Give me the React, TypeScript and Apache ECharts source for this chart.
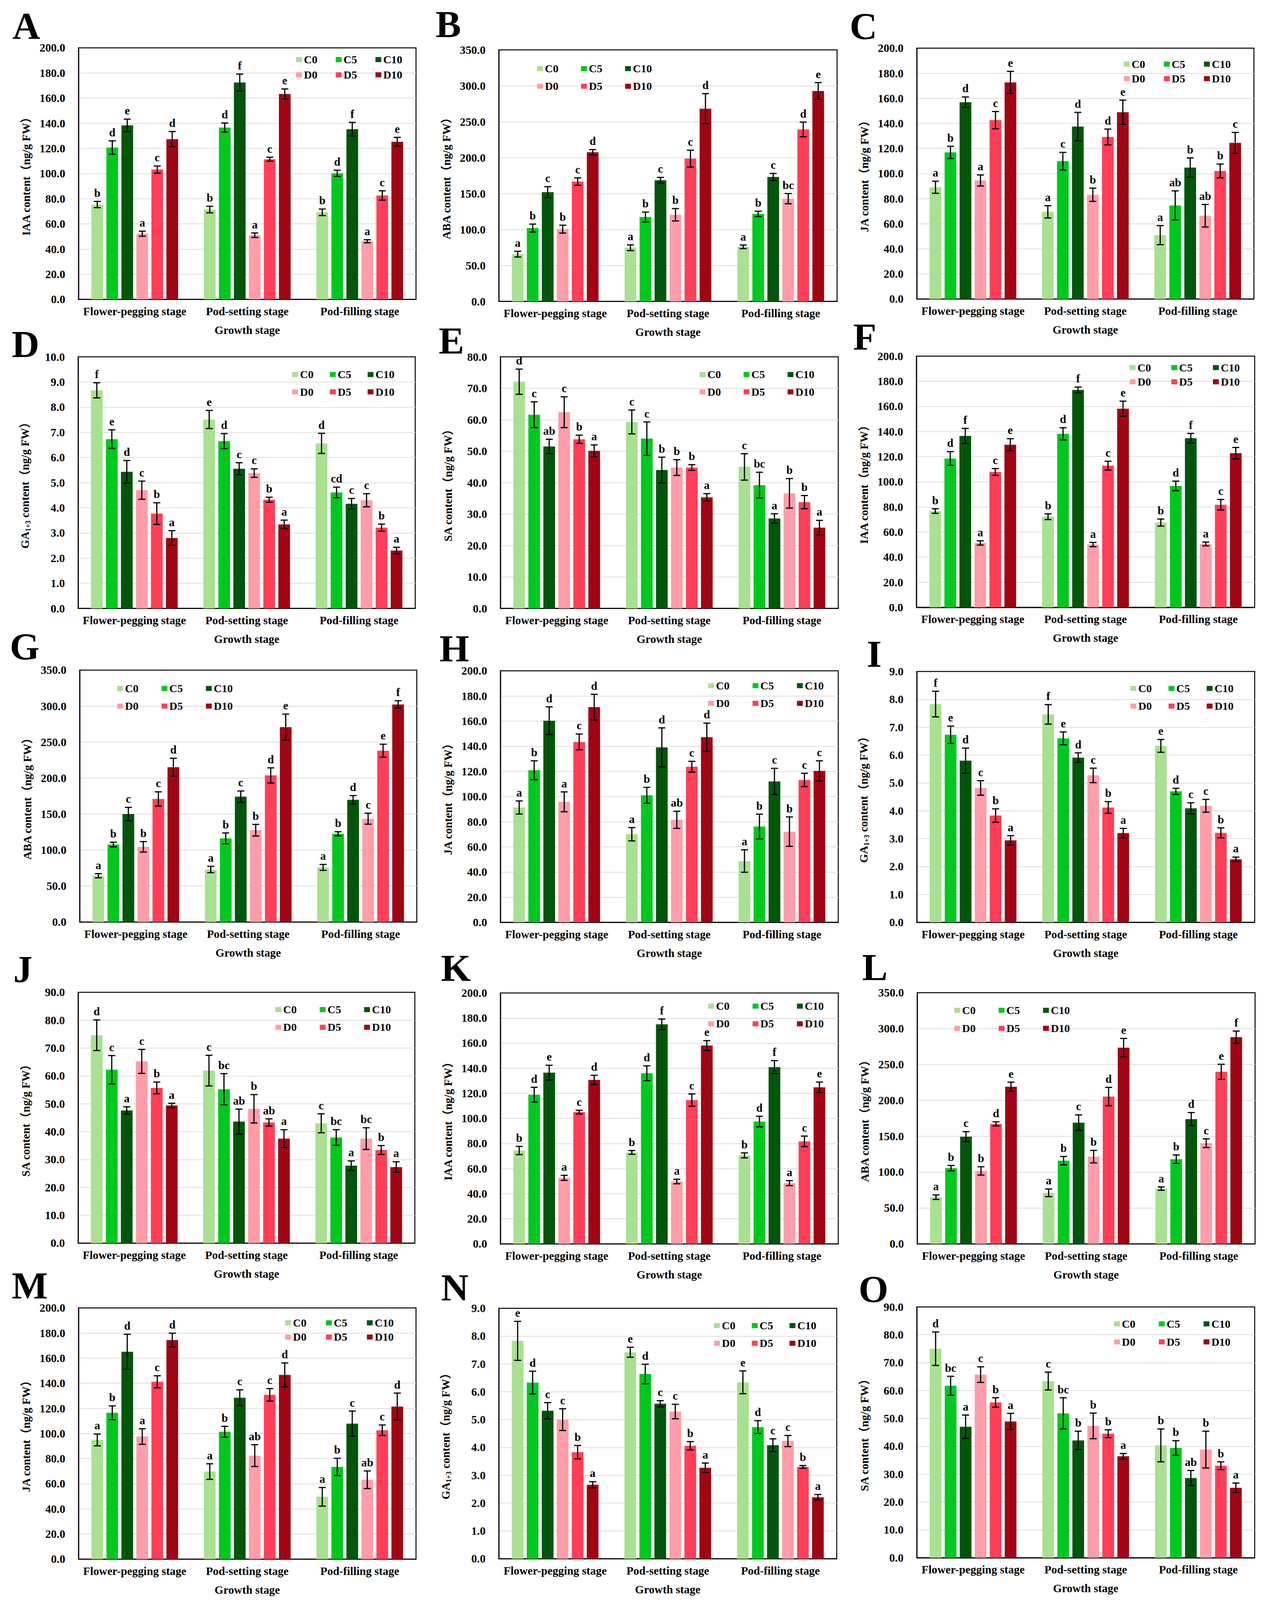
import React, { useEffect, useRef } from 'react';
import * as echarts from 'echarts';

// ---------- categories / series ----------
const STAGES = ['Flower-pegging stage', 'Pod-setting stage', 'Pod-filling stage'];
const TREATMENTS = ['C0', 'C5', 'C10', 'D0', 'D5', 'D10'];
const TREATMENT_COLORS = ['#A9E091', '#00C81E', '#02560B', '#FF9DA8', '#FF3F57', '#A00514'];

// ---------- data: rows = stages, columns = treatments (C0,C5,C10,D0,D5,D10) ----------
const A_MEAN = [[75.4, 120.7, 138.3, 52.2, 103.2, 127.4], [71.4, 136.6, 172.4, 51.0, 111.4, 163.3], [69.2, 100.2, 135.3, 46.2, 82.6, 125.3]];
const A_ERR = [[2.5, 5.3, 5.0, 2.0, 2.8, 6.0], [2.6, 3.6, 6.7, 1.8, 1.6, 4.0], [2.6, 2.5, 5.4, 1.2, 3.7, 3.5]];
const A_LET = [['b', 'd', 'e', 'a', 'c', 'd'], ['b', 'd', 'f', 'a', 'c', 'e'], ['b', 'd', 'f', 'a', 'c', 'e']];

const B_MEAN = [[65.8, 102.1, 152.0, 100.6, 166.7, 207.6], [74.7, 117.5, 168.6, 120.6, 198.7, 268.2], [76.0, 121.8, 173.2, 143.0, 239.3, 292.8]];
const B_ERR = [[4.0, 5.5, 7.7, 5.5, 5.2, 3.7], [4.0, 6.8, 4.0, 8.6, 11.7, 20.9], [2.5, 3.7, 4.9, 7.1, 10.2, 11.7]];
const B_LET = [['a', 'b', 'c', 'b', 'c', 'd'], ['a', 'b', 'c', 'b', 'c', 'd'], ['a', 'b', 'c', 'bc', 'd', 'e']];

const C_MEAN = [[89.1, 116.9, 156.9, 94.5, 142.6, 172.7], [69.5, 109.9, 137.5, 83.1, 129.2, 148.9], [50.9, 74.6, 104.8, 66.4, 102.1, 124.5]];
const C_ERR = [[4.8, 4.9, 4.2, 4.4, 6.9, 8.8], [4.9, 7.0, 11.3, 5.3, 6.3, 9.7], [7.6, 11.6, 7.7, 9.0, 5.5, 8.3]];
const C_LET = [['a', 'b', 'd', 'a', 'c', 'e'], ['a', 'c', 'd', 'b', 'd', 'e'], ['a', 'ab', 'b', 'ab', 'b', 'c']];

const D_MEAN = [[8.67, 6.73, 5.43, 4.70, 3.77, 2.80], [7.51, 6.65, 5.55, 5.38, 4.32, 3.34], [6.56, 4.61, 4.16, 4.30, 3.21, 2.30]];
const D_ERR = [[0.30, 0.37, 0.45, 0.36, 0.43, 0.29], [0.36, 0.30, 0.24, 0.17, 0.10, 0.17], [0.40, 0.21, 0.21, 0.26, 0.14, 0.13]];
const D_LET = [['f', 'e', 'd', 'c', 'b', 'a'], ['e', 'd', 'c', 'c', 'b', 'a'], ['d', 'cd', 'c', 'c', 'b', 'a']];

const E_MEAN = [[72.1, 61.6, 51.5, 62.4, 53.8, 50.1], [59.3, 54.0, 44.0, 44.8, 44.8, 35.3], [45.0, 39.2, 28.6, 36.6, 33.8, 25.7]];
const E_ERR = [[4.0, 4.1, 2.3, 4.9, 1.3, 1.9], [3.8, 5.3, 4.1, 2.5, 0.9, 1.2], [4.2, 4.1, 1.5, 4.7, 2.1, 2.3]];
const E_LET = [['d', 'c', 'ab', 'c', 'b', 'a'], ['c', 'c', 'b', 'b', 'b', 'a'], ['c', 'bc', 'a', 'b', 'b', 'a']];

const F_MEAN = [[76.7, 118.5, 136.5, 51.3, 107.8, 129.5], [72.2, 138.2, 173.1, 50.0, 112.8, 158.2], [67.5, 96.7, 134.7, 50.5, 81.7, 122.8]];
const F_ERR = [[1.8, 5.5, 6.0, 1.7, 2.7, 4.8], [2.3, 4.8, 2.3, 1.7, 3.5, 6.0], [2.8, 3.8, 3.8, 1.5, 4.2, 4.5]];
const F_LET = [['b', 'd', 'f', 'a', 'c', 'e'], ['b', 'd', 'f', 'a', 'c', 'e'], ['b', 'd', 'f', 'a', 'c', 'e']];

const G_MEAN = [[64.2, 107.6, 149.9, 104.4, 170.9, 215.0], [72.9, 116.1, 174.1, 127.5, 203.6, 270.7], [75.8, 122.5, 169.7, 143.5, 238.0, 302.2]];
const G_ERR = [[2.9, 3.2, 9.3, 7.3, 9.9, 12.5], [4.4, 7.6, 7.9, 8.1, 10.5, 18.1], [4.1, 2.9, 5.9, 7.6, 9.0, 5.2]];
const G_LET = [['a', 'b', 'c', 'b', 'c', 'd'], ['a', 'b', 'c', 'b', 'd', 'e'], ['a', 'b', 'd', 'c', 'e', 'f']];

const H_MEAN = [[91.3, 120.9, 160.3, 95.8, 143.4, 171.1], [70.0, 101.0, 139.1, 81.5, 123.7, 147.2], [48.7, 76.1, 112.0, 72.1, 113.2, 120.4]];
const H_ERR = [[5.2, 7.5, 11.0, 7.9, 6.3, 10.2], [5.3, 6.3, 15.5, 6.8, 4.3, 11.2], [8.9, 9.9, 10.4, 11.7, 5.3, 8.0]];
const H_LET = [['a', 'b', 'd', 'a', 'c', 'd'], ['a', 'b', 'd', 'ab', 'c', 'd'], ['a', 'b', 'c', 'b', 'c', 'c']];

const I_MEAN = [[7.83, 6.73, 5.80, 4.82, 3.83, 2.94], [7.46, 6.60, 5.91, 5.27, 4.12, 3.20], [6.33, 4.70, 4.09, 4.18, 3.21, 2.26]];
const I_ERR = [[0.46, 0.31, 0.45, 0.26, 0.24, 0.17], [0.35, 0.23, 0.17, 0.26, 0.21, 0.17], [0.23, 0.11, 0.20, 0.23, 0.18, 0.08]];
const I_LET = [['f', 'e', 'd', 'c', 'b', 'a'], ['f', 'e', 'd', 'c', 'b', 'a'], ['e', 'd', 'c', 'c', 'b', 'a']];

const J_MEAN = [[74.6, 62.2, 47.6, 65.2, 55.7, 49.4], [61.9, 55.2, 43.6, 48.2, 43.3, 37.5], [43.0, 37.9, 27.8, 37.5, 33.4, 27.3]];
const J_ERR = [[5.5, 5.1, 1.3, 4.3, 2.1, 0.8], [5.5, 5.6, 4.5, 5.1, 1.3, 3.2], [3.4, 2.8, 1.7, 3.9, 1.6, 1.9]];
const J_LET = [['d', 'c', 'a', 'c', 'b', 'a'], ['c', 'bc', 'ab', 'b', 'ab', 'a'], ['c', 'bc', 'a', 'bc', 'b', 'a']];

const K_MEAN = [[74.4, 118.9, 136.5, 52.6, 105.0, 130.7], [72.9, 136.0, 175.0, 49.7, 114.6, 158.1], [70.5, 97.5, 140.9, 48.4, 81.7, 124.8]];
const K_ERR = [[3.3, 5.9, 5.9, 2.0, 1.5, 3.7], [1.5, 5.9, 4.2, 1.8, 4.9, 3.9], [2.0, 4.2, 5.2, 2.0, 4.2, 4.2]];
const K_LET = [['b', 'd', 'e', 'a', 'c', 'd'], ['b', 'd', 'f', 'a', 'c', 'e'], ['b', 'd', 'f', 'a', 'c', 'e']];

const L_MEAN = [[65.0, 105.4, 149.3, 101.6, 167.1, 218.9], [71.1, 115.9, 168.9, 121.5, 205.2, 273.3], [77.0, 117.9, 173.8, 140.2, 239.7, 288.0]];
const L_ERR = [[3.2, 3.8, 7.0, 5.8, 2.9, 6.4], [5.3, 5.8, 10.8, 8.7, 12.8, 12.9], [2.3, 5.9, 9.1, 6.1, 10.5, 8.5]];
const L_LET = [['a', 'b', 'c', 'b', 'd', 'e'], ['a', 'b', 'c', 'b', 'd', 'e'], ['a', 'b', 'd', 'c', 'e', 'f']];

const M_MEAN = [[94.9, 116.5, 165.1, 97.6, 141.2, 174.4], [69.7, 101.4, 128.5, 82.4, 130.8, 146.7], [49.6, 73.4, 107.9, 63.2, 102.6, 121.5]];
const M_ERR = [[4.7, 5.5, 13.9, 6.2, 4.8, 5.5], [6.2, 4.3, 6.3, 8.7, 5.0, 9.5], [7.4, 6.9, 10.0, 7.0, 4.2, 10.7]];
const M_LET = [['a', 'b', 'd', 'a', 'c', 'd'], ['a', 'b', 'c', 'ab', 'c', 'd'], ['a', 'b', 'c', 'ab', 'c', 'd']];

const N_MEAN = [[7.83, 6.33, 5.32, 5.00, 3.83, 2.66], [7.42, 6.64, 5.57, 5.29, 4.06, 3.27], [6.34, 4.73, 4.08, 4.23, 3.30, 2.21]];
const N_ERR = [[0.70, 0.41, 0.29, 0.39, 0.24, 0.11], [0.18, 0.35, 0.11, 0.26, 0.15, 0.17], [0.41, 0.23, 0.23, 0.20, 0.05, 0.10]];
const N_LET = [['e', 'd', 'c', 'c', 'b', 'a'], ['e', 'd', 'c', 'c', 'b', 'a'], ['e', 'd', 'c', 'c', 'b', 'a']];

const O_MEAN = [[75.0, 61.7, 47.0, 65.7, 55.7, 48.9], [63.4, 51.8, 42.1, 47.3, 44.5, 36.4], [40.3, 39.4, 28.6, 38.8, 33.0, 25.1]];
const O_ERR = [[6.0, 3.4, 4.2, 2.8, 1.7, 2.9], [3.2, 5.6, 3.3, 4.6, 1.4, 1.0], [5.9, 2.6, 2.7, 6.6, 1.4, 1.7]];
const O_LET = [['d', 'bc', 'a', 'c', 'b', 'a'], ['c', 'bc', 'b', 'b', 'b', 'a'], ['b', 'b', 'ab', 'b', 'b', 'a']];

// ---------- styling / layout ----------
const FONT = "'Liberation Serif', 'Times New Roman', 'Noto Sans CJK SC', serif";
const PAGE_W = 3241;
const PAGE_H = 4618;
const BAR_WIDTH = 30;
const BAR_GAP_RATIO = 0.28;
const PITCH = BAR_WIDTH * (1 + BAR_GAP_RATIO);
const CAP_HALF = 9;
const ERR_LINE_W = 3;
const GRID_LINE_COLOR = '#dedede';

function viewHeight() {
  const h = typeof window !== 'undefined' ? window.innerHeight : PAGE_H;
  return h > 100 ? Math.min(h, PAGE_H) : PAGE_H;
}

type Panel = {
  key: string;
  mean: number[][];
  err: number[][];
  letters: string[][];
  hormone: string;
  max: number;
  interval: number;
  grid: [number, number, number, number]; // left, top, width, height (reference px)
  labelPos: [number, number];
  legend: [number, number, number, number]; // x offset, row1 y offset, row2 y offset, itemGap
};

const PANELS: Panel[] = [
  { key: 'A', mean: A_MEAN, err: A_ERR, letters: A_LET, hormone: 'IAA', max: 200, interval: 20, grid: [201, 138, 864, 726], labelPos: [32, 74], legend: [557, 34, 78, 47] },
  { key: 'B', mean: B_MEAN, err: B_ERR, letters: B_LET, hormone: 'ABA', max: 350, interval: 50, grid: [1277, 144, 866, 726], labelPos: [1115, 70], legend: [98, 54, 105, 58] },
  { key: 'C', mean: C_MEAN, err: C_ERR, letters: C_LET, hormone: 'JA', max: 200, interval: 20, grid: [2347, 139, 863, 724], labelPos: [2175, 76], legend: [530, 46, 88, 48] },
  { key: 'D', mean: D_MEAN, err: D_ERR, letters: D_LET, hormone: 'GA', max: 10, interval: 1, grid: [200, 1030, 863, 726], labelPos: [30, 993], legend: [548, 51, 101, 42] },
  { key: 'E', mean: E_MEAN, err: E_ERR, letters: E_LET, hormone: 'SA', max: 80, interval: 10, grid: [1281, 1030, 865, 726], labelPos: [1123, 983], legend: [510, 51, 101, 58] },
  { key: 'F', mean: F_MEAN, err: F_ERR, letters: F_LET, hormone: 'IAA', max: 200, interval: 20, grid: [2346, 1028, 866, 725], labelPos: [2184, 972], legend: [546, 33, 74, 52] },
  { key: 'G', mean: G_MEAN, err: G_ERR, letters: G_LET, hormone: 'ABA', max: 350, interval: 50, grid: [204, 1934, 863, 727], labelPos: [25, 1866], legend: [96, 53, 104, 59] },
  { key: 'H', mean: H_MEAN, err: H_ERR, letters: H_LET, hormone: 'JA', max: 200, interval: 20, grid: [1281, 1936, 865, 726], labelPos: [1125, 1871], legend: [532, 43, 94, 59] },
  { key: 'I', mean: I_MEAN, err: I_ERR, letters: I_LET, hormone: 'GA', max: 9, interval: 1, grid: [2347, 1938, 865, 724], labelPos: [2219, 1887], legend: [547, 49, 100, 43] },
  { key: 'J', mean: J_MEAN, err: J_ERR, letters: J_LET, hormone: 'SA', max: 90, interval: 10, grid: [200, 2864, 862, 724], labelPos: [34, 2797], legend: [505, 50, 101, 59] },
  { key: 'K', mean: K_MEAN, err: K_ERR, letters: K_LET, hormone: 'IAA', max: 200, interval: 20, grid: [1281, 2866, 865, 724], labelPos: [1129, 2794], legend: [532, 38, 89, 59] },
  { key: 'L', mean: L_MEAN, err: L_ERR, letters: L_LET, hormone: 'ABA', max: 350, interval: 50, grid: [2348, 2865, 865, 725], labelPos: [2207, 2791], legend: [95, 51, 103, 59] },
  { key: 'M', mean: M_MEAN, err: M_ERR, letters: M_LET, hormone: 'JA', max: 200, interval: 20, grid: [201, 3775, 864, 725], labelPos: [30, 3710], legend: [529, 43, 84, 50] },
  { key: 'N', mean: N_MEAN, err: N_ERR, letters: N_LET, hormone: 'GA', max: 9, interval: 1, grid: [1277, 3776, 865, 723], labelPos: [1129, 3716], legend: [551, 50, 101, 42] },
  { key: 'O', mean: O_MEAN, err: O_ERR, letters: O_LET, hormone: 'SA', max: 90, interval: 10, grid: [2347, 3772, 865, 724], labelPos: [2198, 3720], legend: [505, 49, 101, 60] },
];

function yTitle(hormone: string) {
  if (hormone === 'GA') return '{n|GA}{s|1+3}{n| content（ng/g FW）}';
  return hormone + ' content（ng/g FW）';
}

function buildOption(viewH: number) {
  const sy = viewH / PAGE_H;            // vertical fit of the page into the viewport
  const fs = Math.sqrt(sy);              // font scale (compromise between axes)
  const Y = (v: number) => v * sy;
  const F = (v: number) => Math.round(v * fs * 10) / 10;
  const baseText = { fontFamily: FONT, fontWeight: 'bold' as const, color: '#000' };

  const grid: any[] = [];
  const xAxis: any[] = [];
  const yAxis: any[] = [];
  const series: any[] = [];
  const legend: any[] = [];
  const graphic: any[] = [];

  PANELS.forEach((p, i) => {
    const [gl, gt0, gw, gh0] = p.grid;
    const gt = Y(gt0);
    const gh = Y(gh0);
    grid.push({
      left: gl, top: gt, width: gw, height: gh,
      show: true, borderColor: '#000', borderWidth: 2.5,
      backgroundColor: 'rgba(0,0,0,0)', containLabel: false,
    });
    xAxis.push({
      gridIndex: i, type: 'category', data: STAGES,
      axisLine: { show: true, lineStyle: { color: '#000', width: 2.5 } },
      axisTick: { show: false },
      axisLabel: { ...baseText, fontSize: F(31), margin: Y(18), interval: 0 },
      name: 'Growth stage', nameLocation: 'middle', nameGap: Y(72),
      nameTextStyle: { ...baseText, fontSize: F(31) },
    });
    const nLines = Math.round(p.max / p.interval) + 1;
    const splitColors = Array.from({ length: nLines }, (_, k) =>
      k === 0 || k === nLines - 1 ? 'rgba(0,0,0,0)' : GRID_LINE_COLOR);
    yAxis.push({
      gridIndex: i, type: 'value', min: 0, max: p.max, interval: p.interval,
      axisLine: { show: true, lineStyle: { color: '#000', width: 2.5 } },
      axisTick: { show: false },
      splitLine: { show: true, lineStyle: { color: splitColors, width: 2 } },
      axisLabel: { ...baseText, fontSize: F(31), margin: 34, formatter: (v: number) => v.toFixed(1) },
      name: yTitle(p.hormone), nameLocation: 'middle', nameGap: 119,
      nameTextStyle: {
        ...baseText, fontSize: F(31),
        rich: {
          n: { ...baseText, fontSize: F(31), lineHeight: F(36), verticalAlign: 'middle' },
          s: { ...baseText, fontSize: F(19), lineHeight: F(19), verticalAlign: 'bottom' },
        },
      },
    });

    TREATMENTS.forEach((t, ti) => {
      series.push({
        type: 'bar', name: t, xAxisIndex: i, yAxisIndex: i,
        data: p.mean.map((row) => row[ti]),
        barWidth: BAR_WIDTH, barGap: `${BAR_GAP_RATIO * 100}%`,
        itemStyle: { color: TREATMENT_COLORS[ti] },
        z: 2, silent: true,
      });
    });

    const errData: number[][] = [];
    const letters: string[] = [];
    p.mean.forEach((row, ci) => row.forEach((m, ti) => {
      errData.push([ci, ti, m, p.err[ci][ti]]);
      letters.push(p.letters[ci][ti]);
    }));
    const letterFont = F(31);
    const letterGap = Y(8);
    series.push({
      type: 'custom', xAxisIndex: i, yAxisIndex: i, data: errData,
      encode: { x: 0, y: 2 }, z: 5, clip: false, silent: true,
      renderItem: (params: any, api: any) => {
        const cat = api.value(0);
        const si = api.value(1);
        const mean = api.value(2);
        const err = api.value(3);
        const cx = api.coord([cat, mean])[0] + (si - 2.5) * PITCH;
        const yTop = api.coord([cat, mean + err])[1];
        const yBot = api.coord([cat, mean - err])[1];
        const ls = { stroke: '#000', lineWidth: ERR_LINE_W };
        return {
          type: 'group',
          children: [
            { type: 'line', shape: { x1: cx, y1: yTop, x2: cx, y2: yBot }, style: ls },
            { type: 'line', shape: { x1: cx - CAP_HALF, y1: yTop, x2: cx + CAP_HALF, y2: yTop }, style: ls },
            { type: 'line', shape: { x1: cx - CAP_HALF, y1: yBot, x2: cx + CAP_HALF, y2: yBot }, style: ls },
            {
              type: 'text',
              style: {
                text: letters[params.dataIndex], x: cx, y: yTop - letterGap,
                align: 'center', verticalAlign: 'bottom',
                fontSize: letterFont, fontWeight: 'bold', fontFamily: FONT, fill: '#000',
              },
            },
          ],
        };
      },
    });

    const [lx, r1, r2, gap] = p.legend;
    const legendFont = F(30);
    const legendBase = {
      left: gl + lx, orient: 'horizontal', padding: 0, itemGap: gap,
      itemWidth: 15, itemHeight: Math.round(15 * sy), icon: 'rect', selectedMode: false,
      textStyle: { ...baseText, fontSize: legendFont, lineHeight: legendFont },
    };
    legend.push({ ...legendBase, top: gt + Y(r1) - legendFont / 2, data: TREATMENTS.slice(0, 3) });
    legend.push({ ...legendBase, top: gt + Y(r2) - legendFont / 2, data: TREATMENTS.slice(3, 6) });

    const panelFont = F(104);
    graphic.push({
      type: 'text', x: p.labelPos[0], y: Y(p.labelPos[1]),
      style: {
        text: p.key, fontSize: panelFont, lineHeight: Math.round(panelFont * 0.72),
        fontWeight: 'bold', fontFamily: FONT, fill: '#000',
        align: 'left', verticalAlign: 'middle',
      },
    });
  });

  return { animation: false, backgroundColor: '#fff', grid, xAxis, yAxis, series, legend, graphic };
}

export default function App() {
  const ref = useRef<HTMLDivElement>(null);
  const viewH = viewHeight();
  useEffect(() => {
    document.body.style.margin = '0';
    if (!ref.current) return;
    const chart = echarts.init(ref.current, undefined, { renderer: 'svg' });
    chart.setOption(buildOption(viewH) as any);
    return () => chart.dispose();
  }, [viewH]);
  return <div ref={ref} style={{ width: PAGE_W, height: viewH, background: '#fff' }} />;
}
